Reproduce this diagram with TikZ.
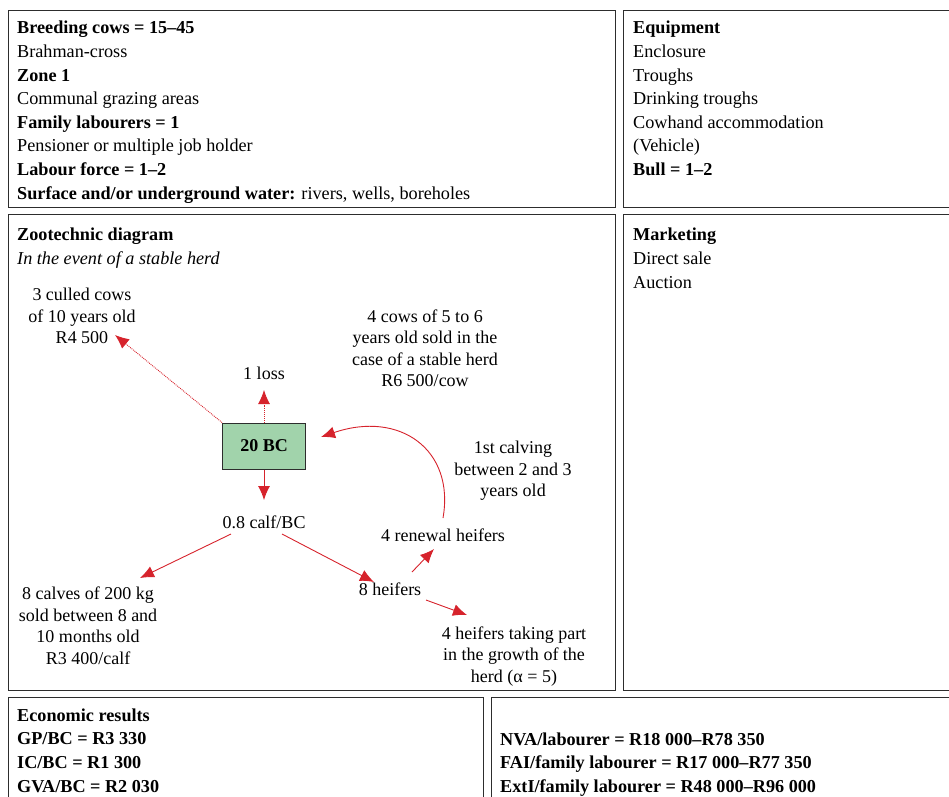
\documentclass[tikz,border=0pt]{standalone}
\usepackage{fontspec}
\setmainfont{Liberation Serif}
\usetikzlibrary{arrows.meta,positioning}
\definecolor{HerdGreen}{RGB}{161,211,171}
\definecolor{FlowRed}{RGB}{214,35,44}
\definecolor{FrameGrey}{RGB}{45,45,45}
\tikzset{
  panel/.style={draw=FrameGrey,line width=0.9pt},
  paneltext/.style={anchor=north west,align=left,inner sep=0pt,
    font=\fontsize{18.2}{23.6}\selectfont},
  herd/.style={draw=FrameGrey,fill=HerdGreen,line width=1pt,
    minimum width=83pt,minimum height=46pt,font=\fontsize{18}{20}\selectfont\bfseries},
  flowtext/.style={align=center,inner sep=0pt,font=\fontsize{18}{21.5}\selectfont},
  flow/.style={-{Latex[length=14pt,width=12pt]},FlowRed,line width=0.9pt},
  dotflow/.style={flow,densely dotted}
}

\begin{document}
\begin{tikzpicture}[x=1pt,y=-1pt]
      \useasboundingbox (0,0) rectangle (949,796);
      % panels
      \draw[panel] (8,10) rectangle (615,207);
      \draw[panel] (623,10) rectangle (960,207);
      \draw[panel] (8,214) rectangle (615,690);
      \draw[panel] (623,214) rectangle (960,690);
      \draw[panel] (8,697) rectangle (483,810);
      \draw[panel] (491,697) rectangle (960,810);
      % panel texts
      \node[paneltext] (farm) at (17,21) {\textbf{Breeding cows = 15--45}\\Brahman-cross\\\textbf{Zone 1}\\Communal grazing areas\\\textbf{Family labourers = 1}\\Pensioner or multiple job holder\\\textbf{Labour force = 1--2}\\\textbf{Surface and/or underground water:} rivers, wells, boreholes};
      \node[paneltext] (equip) at (633,21) {\textbf{Equipment}\\Enclosure\\Troughs\\Drinking troughs\\Cowhand accommodation\\(Vehicle)\\\textbf{Bull = 1--2}};
      \node[paneltext] (zoo) at (17,228) {\textbf{Zootechnic diagram}\\\textit{In the event of a stable herd}};
      \node[paneltext] (market) at (633,228) {\textbf{Marketing}\\Direct sale\\Auction};
      \node[paneltext] (econ) at (17,708.5) {\textbf{Economic results}\\\textbf{GP/BC = R3 330}\\\textbf{IC/BC = R1 300}\\\textbf{GVA/BC = R2 030}};
      \node[paneltext] (income) at (500,732.5) {\textbf{NVA/labourer = R18 000--R78 350}\\\textbf{FAI/family labourer = R17 000--R77 350}\\\textbf{ExtI/family labourer = R48 000--R96 000}};
      % herd diagram
      \node[herd] (bc) at (264,446) {20 BC};
      \node[flowtext] (culled) at (82,316) {3 culled cows\\of 10 years old\\R4 500};
      \node[flowtext] (loss) at (264,373) {1 loss};
      \node[flowtext] (sold) at (425,348) {4 cows of 5 to 6\\years old sold in the\\case of a stable herd\\R6 500/cow};
      \node[flowtext] (calf) at (264,522) {0.8 calf/BC};
      \node[flowtext] (calves) at (88,625.5) {8 calves of 200 kg\\sold between 8 and\\10 months old\\R3 400/calf};
      \node[flowtext] (heifers) at (390,589) {8 heifers};
      \node[flowtext] (renewal) at (443,535) {4 renewal heifers};
      \node[flowtext] (calving) at (513,471) {1st calving\\between 2 and 3\\years old};
      \node[flowtext] (growth) at (514,656.5) {4 heifers taking part\\in the growth of the\\herd (α = 5)};
      \draw[dotflow] (bc.north west) -- ([shift={(33,19)}]culled.center);
      \draw[dotflow] (bc.north) -- ([shift={(0,17)}]loss.center);
      \draw[flow] (bc.south) -- ([shift={(0,-22)}]calf.center);
      \draw[flow] ([shift={(-33,12)}]calf.center) -- ([shift={(52,-47.5)}]calves.center);
      \draw[flow] ([shift={(18,12)}]calf.center) -- ([shift={(-16,-7)}]heifers.center);
      \draw[flow] ([shift={(22,-17)}]heifers.center) -- ([shift={(-9,14)}]renewal.center);
      \draw[flow] ([shift={(36,11)}]heifers.center) -- ([shift={(-47,-41.5)}]growth.center);
      \draw[flow] ([shift={(0,-17)}]renewal.center) .. controls (455,450) and (400,410) .. ([shift={(15,-9)}]bc.east);
    \end{tikzpicture}
\end{document}
